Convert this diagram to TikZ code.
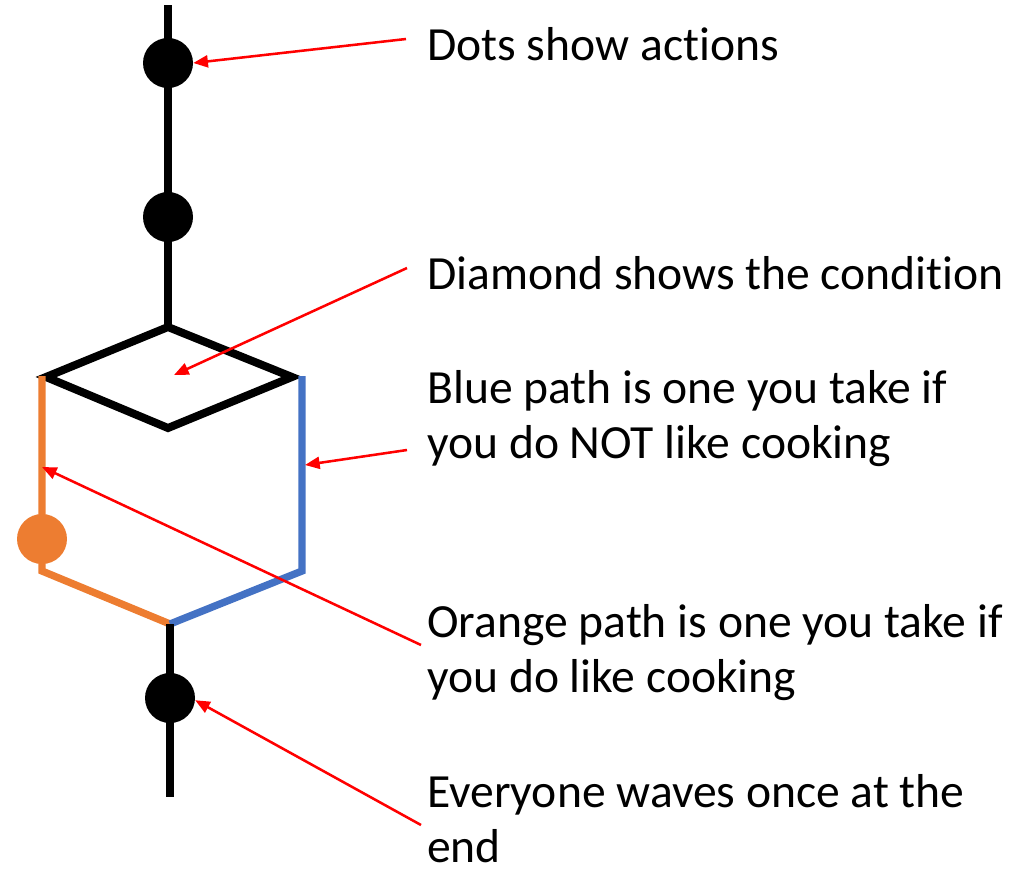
\documentclass[tikz,border=0pt]{standalone}
\usepackage{fontspec}
\setmainfont{Carlito}[Ligatures=NoCommon]
\usetikzlibrary{arrows.meta}
\definecolor{flowblue}{HTML}{4472C4}
\definecolor{floworange}{HTML}{ED7D31}
\definecolor{callred}{HTML}{FF0000}
\begin{document}
\begin{tikzpicture}[x=0.75pt,y=-0.75pt,
  flow/.style={line width=6pt},
  dot/.style={circle,fill=black,inner sep=0pt,minimum size=37.5pt},
  callout/.style={draw=callred,line width=1.9pt,-{Triangle[length=11pt,width=9pt]}},
  label/.style={anchor=base west,inner sep=0pt,font=\fontsize{35.7}{41}\selectfont,align=left}]
\useasboundingbox (0,0) rectangle (1033,869);

% diamond corners and junctions
\coordinate (top) at (168,5);
\coordinate (dn) at (168,327);
\coordinate (dw) at (46,377);
\coordinate (ds) at (168,428);
\coordinate (de) at (292,377);
\coordinate (join) at (170,624);
\coordinate (bottom) at (170,797);
\coordinate (ow) at (42,376);
\coordinate (oc) at (42,571);
\coordinate (bw) at (302,376);
\coordinate (bc) at (302,571);

% main line and action dots
\draw[flow] (top) -- (dn);
\node[dot] (d1) at (168,63) {};
\node[dot] (d2) at (168,217) {};
\draw[flow,line join=miter] (dn) -- (de) -- (ds) -- (dw) -- cycle;

% the two branches
\draw[flow,floworange,line width=5.5pt] (ow) -- (oc) -- (join);
\node[circle,fill=floworange,inner sep=0pt,minimum size=37.5pt] (d3) at (42,539) {};
\draw[flow,flowblue,line width=5.5pt] (bw) -- (bc) -- (join);

\draw[flow] (join) -- (bottom);
\node[dot] (d5) at (170,698) {};

% labels (base anchor of a two-line node sits on its last line)
\node[label] (t1) at (427,60) {Dots show actions};
\node[label] (t2) at (427,289) {Diamond shows the condition};
\node[label] (t3) at (427,458) {Blue path is one you take if\\you do NOT like cooking};
\node[label] (t4) at (427,692) {Orange path is one you take if\\you do like cooking};
\node[label] (t5) at (427,862) {Everyone waves once at the\\end};

% callout arrows
\coordinate (s1) at (406,39);
\coordinate (s2) at (407,268);
\coordinate (s3) at (407,450);
\coordinate (s4) at (421,645);
\coordinate (s5) at (421,825);
\coordinate (cond) at (174,375);
\coordinate (bluept) at (305,465);
\coordinate (orangept) at (42,467);
\draw[callout] (s1) -- (d1.east);
\draw[callout] (s2) -- (cond);
\draw[callout] (s3) -- (bluept);
\draw[callout] (s4) -- (orangept);
\draw[callout] (s5) -- (d5.-5);
\end{tikzpicture}
\end{document}
